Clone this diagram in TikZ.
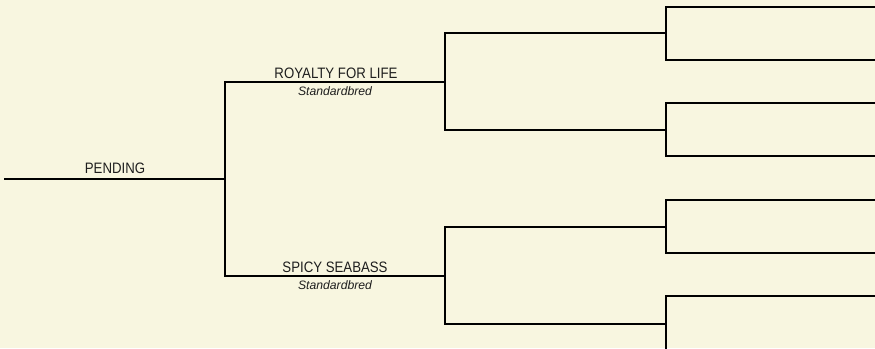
\documentclass[tikz,border=0pt]{standalone}
\usepackage{fontspec}
\setmainfont{Liberation Sans}
\definecolor{bg}{RGB}{248,246,224}
\definecolor{txt}{RGB}{30,30,30}
\newcommand\horsename[1]{\scalebox{0.98}[1.12]{#1}}
\begin{document}
\begin{tikzpicture}[x=1pt,y=-1pt,
  link/.style={line width=1.4pt, black, line cap=rect},
  horse/.style={anchor=base, inner sep=0pt, text=txt, font=\fontsize{13.5}{15}\selectfont},
  breed/.style={anchor=base, inner sep=0pt, text=txt, font=\fontsize{12.2}{14}\selectfont\itshape}]
\fill[bg] (0,0) rectangle (875,348);
\useasboundingbox (0,0) rectangle (875,348);
% generation 0
\coordinate (r0) at (5,179);
\coordinate (r1) at (225,179);
% generation 1
\coordinate (a0) at (225,82);  \coordinate (a1) at (445,82);
\coordinate (b0) at (225,276); \coordinate (b1) at (445,276);
% generation 2
\coordinate (aa0) at (445,33);  \coordinate (aa1) at (666,33);
\coordinate (ab0) at (445,130); \coordinate (ab1) at (666,130);
\coordinate (ba0) at (445,227); \coordinate (ba1) at (666,227);
\coordinate (bb0) at (445,324); \coordinate (bb1) at (666,324);
% generation 3
\coordinate (l1a) at (666,7);   \coordinate (l1b) at (875,7);
\coordinate (l2a) at (666,60);  \coordinate (l2b) at (875,60);
\coordinate (l3a) at (666,103); \coordinate (l3b) at (875,103);
\coordinate (l4a) at (666,156); \coordinate (l4b) at (875,156);
\coordinate (l5a) at (666,200); \coordinate (l5b) at (875,200);
\coordinate (l6a) at (666,253); \coordinate (l6b) at (875,253);
\coordinate (l7a) at (666,296); \coordinate (l7b) at (875,296);
\coordinate (l8a) at (666,350);

% lines
\draw[link] (r0) -- (r1);
\draw[link] (a0) -- (b0);
\draw[link] (a0) -- (a1);
\draw[link] (b0) -- (b1);
\draw[link] (aa0) -- (ab0);
\draw[link] (ba0) -- (bb0);
\draw[link] (aa0) -- (aa1);
\draw[link] (ab0) -- (ab1);
\draw[link] (ba0) -- (ba1);
\draw[link] (bb0) -- (bb1);
\draw[link] (l1a) -- (l2a);
\draw[link] (l3a) -- (l4a);
\draw[link] (l5a) -- (l6a);
\draw[link] (l7a) -- (l8a);
\draw[link] (l1a) -- (l1b);
\draw[link] (l2a) -- (l2b);
\draw[link] (l3a) -- (l3b);
\draw[link] (l4a) -- (l4b);
\draw[link] (l5a) -- (l5b);
\draw[link] (l6a) -- (l6b);
\draw[link] (l7a) -- (l7b);

% labels
\node[horse] (pending) at (115,173) {\horsename{PENDING}};
\node[horse] (royalty) at (336,78) {\horsename{ROYALTY FOR LIFE}};
\node[breed] (royaltyb) at (335,95) {Standardbred};
\node[horse] (spicy) at (335,272) {\horsename{SPICY SEABASS}};
\node[breed] (spicyb) at (335,289) {Standardbred};
\end{tikzpicture}
\end{document}
